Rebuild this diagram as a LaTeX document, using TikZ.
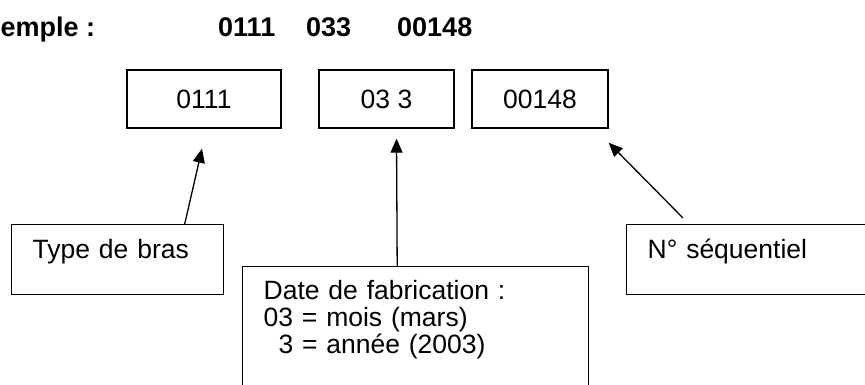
\documentclass[tikz,border=0pt]{standalone}
\usepackage{fontspec}
\setmainfont{Liberation Sans}
\usetikzlibrary{arrows.meta}
\tikzstyle{heading} = [anchor=base west, inner sep=0pt, font=\bfseries\fontsize{27}{30}\selectfont]
\tikzstyle{codebox} = [rectangle, minimum height=58pt, inner sep=0pt, text centered, draw=black, line width=1.4pt, font=\fontsize{26.5}{27}\selectfont]
\tikzstyle{notebox} = [rectangle, anchor=north west, inner xsep=21pt, inner ysep=8pt, align=left, draw=black, line width=1.4pt, font=\fontsize{26.5}{27}\selectfont]
\tikzstyle{arrow} = [line width=1.3pt, -{Triangle[length=14pt,width=12pt]}]

\begin{document}
\begin{tikzpicture}[x=1pt,y=-1pt]
\useasboundingbox (0,0) rectangle (865,385);
\clip (0,0) rectangle (865,385);

\node (ex) [heading] at (0.5,37) {emple :};
\node (num1) [heading] at (218,37) {0111};
\node (num2) [heading] at (306,37) {033};
\node (num3) [heading] at (397,37) {00148};

\node (box1) [codebox, minimum width=154pt] at (204,99) {0111};
\node (box2) [codebox, minimum width=135pt] at (386.5,99) {03 3};
\node (box3) [codebox, minimum width=136pt] at (540,99) {00148};

\node (bras) [notebox, text width=170pt, text height=26pt, text depth=28pt] at (11,224) {Type de bras};
\node (date) [notebox, text width=304pt, text height=25pt, text depth=120pt] at (242,266) {Date de fabrication :\\03 = mois (mars)\\\hspace*{0.56em}3 = année (2003)};
\node (seq) [notebox, text width=260pt, text height=26pt, text depth=28pt] at (626,224) {N° séquentiel};

\draw [arrow] ([xshift=67pt]bras.north) -- ([xshift=-2pt,yshift=-20pt]box1.south);
\draw [arrow] ([xshift=-18.5pt]date.north) -- ([xshift=10pt,yshift=-10pt]box2.south);
\draw [arrow] ([shift={(57pt,6pt)}]seq.north west) -- ([yshift=-14pt]box3.south east);
\end{tikzpicture}
\end{document}
